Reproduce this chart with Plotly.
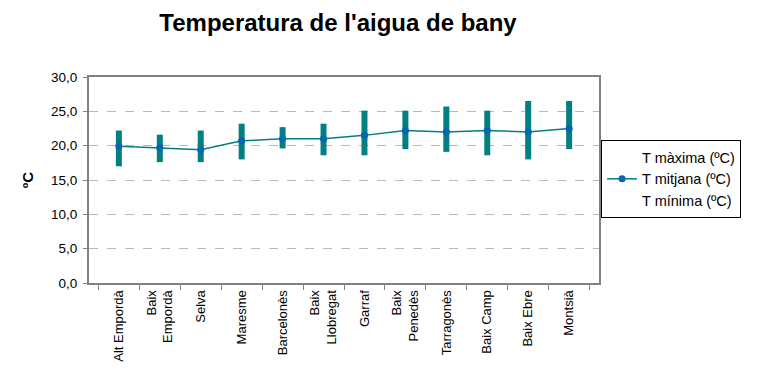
import plotly.graph_objects as go

categories = ["Alt Empordà", "Baix<br>Empordà", "Selva", "Maresme", "Barcelonès",
              "Baix<br>Llobregat", "Garraf", "Baix<br>Penedès", "Tarragonès",
              "Baix Camp", "Baix Ebre", "Montsià"]
t_max = [22.2, 21.6, 22.2, 23.2, 22.7, 23.2, 25.1, 25.1, 25.7, 25.1, 26.5, 26.5]
t_mean = [19.9, 19.7, 19.4, 20.7, 21.0, 21.0, 21.5, 22.2, 22.0, 22.2, 22.0, 22.5]
t_min = [17.0, 17.6, 17.6, 18.0, 19.6, 18.6, 18.6, 19.5, 19.1, 18.6, 18.0, 19.5]
y_ticks = [0, 5, 10, 15, 20, 25, 30]

TEAL = "#008080"
FONT = "Liberation Sans, Arial, sans-serif"

fig = go.Figure()
fig.add_trace(go.Scatter(
    x=categories, y=t_max, name="T màxima (ºC)", mode="markers",
    marker=dict(color="rgba(0,0,0,0)", size=1),
    error_y=dict(type="data", symmetric=False,
                 array=[0] * len(t_max),
                 arrayminus=[a - b for a, b in zip(t_max, t_min)],
                 color=TEAL, thickness=6, width=0),
    hoverinfo="skip"))
fig.add_trace(go.Scatter(
    x=categories, y=t_mean, name="T mitjana (ºC)", mode="lines+markers",
    line=dict(color=TEAL, width=1.5),
    marker=dict(color="#0066b3", size=7)))
fig.add_trace(go.Scatter(
    x=categories, y=t_min, name="T mínima (ºC)", mode="markers",
    marker=dict(color="rgba(0,0,0,0)", size=1), hoverinfo="skip"))

fig.update_layout(
    width=750, height=368,
    margin=dict(l=81, r=159, t=69, b=93, autoexpand=False),
    paper_bgcolor="white", plot_bgcolor="white",
    separators=",.",
    font=dict(family=FONT, size=13, color="#000"),
    title=dict(text="<b>Temperatura de l'aigua de bany</b>", x=0.44, xanchor="center",
               y=0.96, yanchor="middle", font=dict(size=24, family=FONT, color="#000")),
    showlegend=True,
    legend=dict(x=1.004, xanchor="left", y=0.694, yanchor="top",
                bordercolor="#000", borderwidth=1, bgcolor="white",
                font=dict(size=14.5, family=FONT), tracegroupgap=0),
    xaxis=dict(tickson="boundaries", ticks="outside", ticklen=5, tickcolor="#808080",
               tickwidth=1, showline=True, linecolor="#808080", linewidth=2, mirror=True,
               showgrid=False, tickangle=-90, tickfont=dict(size=13, family=FONT)),
    yaxis=dict(range=[0, 30], tickvals=y_ticks, tickformat=".1f", ticks="outside",
               ticklen=4, tickcolor="#808080", showline=True, linecolor="#808080",
               linewidth=2, mirror=True, showgrid=True, gridcolor="#b8b8b8",
               griddash="dash", gridwidth=1, zeroline=False, ticklabelstandoff=3,
               tickfont=dict(size=13.5, family=FONT),
               title=dict(text="<b>ºC</b>", font=dict(size=15, family=FONT), standoff=14)),
)

fig.write_html("out.html")
